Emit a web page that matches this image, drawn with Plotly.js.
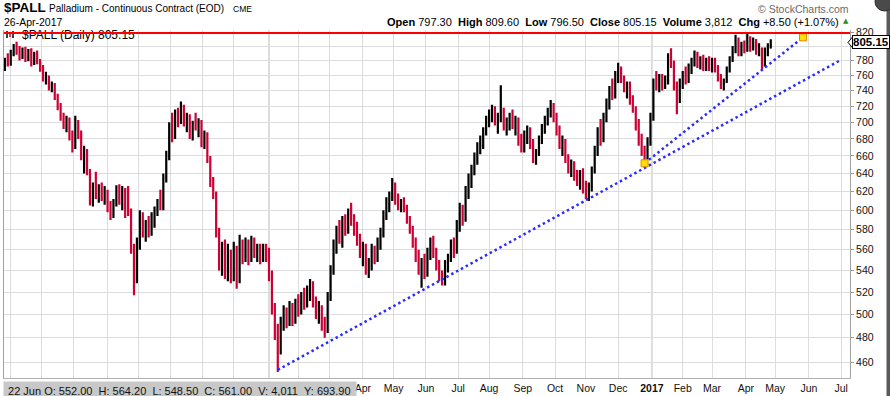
<!DOCTYPE html>
<html><head><meta charset="utf-8">
<script src="https://cdn.plot.ly/plotly-3.0.1.min.js"></script>
<style>html,body{margin:0;padding:0;background:#fff;overflow:hidden}#chart{width:890px;height:396px}</style>
</head><body><div id="chart"></div>
<script>
// ---------- DATA ----------
// one bar every 2 trading days, starting 2015-04-27
const firstBarDate = '2015-04-27';
const barStepDays = 2;

const openP = [
775,780,775,792,798,791,786,795,782,790,776,788,
778,768,756,758,745,748,734,720,706,700,704,682,670,700,684,660,665,642,
615,626,618,624,614,620,602,596,608,622,610,620,612,
600,562,530,566,
592,578,585,576,594,
600,608,604,636,660,692,684,708,700,
720,700,706,686,696,694,700,676,684,656,630,
618,578,548,562,540,556,536,560,530,566,552,566,550,568,558,562,552,562,
556,536,505,488,470,
492,498,492,506,496,510,504,516,508,522,526,
512,500,506,490,
486,515,540,565,578,572,588,580,598,
590,580,570,556,562,542,548,560,552,568,
576,596,610,616,626,612,604,608,
602,590,580,566,552,540,546,538,556,566,556,544,534,530,546,552,566,
558,584,600,590,620,634,644,658,670,676,690,702,710,
716,702,708,712,696,700,706,698,702,678,670,684,690,672,658,664,680,694,702,714,
720,706,690,674,678,656,646,650,636,630,640,622,616,
626,644,666,688,678,706,724,740,734,760,
770,756,744,748,728,716,696,678,664,
660,678,706,750,744,756,746,752,784,776,746,
728,750,760,754,770,778,788,776,782,772,778,770,780,768,758,748,
752,768,782,796,808,790,800,796,810,798,806,792,796,776,792,797.3];

const highP = [
784,790,795,803,806,800,798,799,796,797,792,794,
782,774,765,760,752,750,736,724,712,708,706,690,708,703,690,672,668,645,
630,642,628,630,626,622,610,612,627,628,626,624,626,
602,566,572,600,
598,590,594,598,604,
612,622,640,666,700,712,716,718,726,
722,712,710,702,712,705,703,690,688,660,636,
620,582,568,570,566,560,568,564,575,570,572,570,574,572,566,566,566,566,
562,540,510,492,498,
508,506,512,510,514,518,520,524,526,532,530,
516,512,508,498,
520,545,570,584,590,594,596,602,608,
596,588,576,568,566,552,566,564,572,582,
600,614,620,635,630,618,612,614,
606,594,584,572,560,552,556,562,572,574,562,550,540,550,556,570,572,
590,608,606,626,640,650,664,676,684,694,708,716,722,
720,712,747,718,706,712,716,708,706,686,690,696,694,680,668,684,698,708,718,728,
724,712,696,684,680,662,656,654,644,644,646,632,630,
648,672,694,704,712,730,746,756,766,777,
772,760,752,752,734,720,704,686,672,
682,712,756,766,762,762,760,790,797,780,752,
756,766,772,776,784,794,792,786,788,784,786,784,784,774,762,756,
772,786,800,816,812,806,808,817,814,812,810,804,798,798,804,809.6];

const lowP = [
766,772,773,786,788,780,782,778,779,772,774,775,
765,752,748,740,738,728,715,702,692,688,678,664,668,680,655,640,638,605,
604,612,608,610,606,598,590,592,604,606,600,592,594,
556,517,528,560,
572,568,572,574,582,
594,600,600,630,655,676,680,694,698,
695,688,680,678,690,682,670,668,652,625,612,
572,540,535,532,530,528,530,523,528,546,548,545,548,552,548,546,548,548,
530,500,478,452,466,
486,488,490,490,492,498,500,504,506,512,506,
496,492,486,480,
484,512,536,556,566,562,574,576,584,
574,564,552,544,536,533,540,546,548,560,
572,590,598,610,606,600,598,598,
586,576,562,548,536,524,532,534,550,552,540,530,526,526,538,548,552,
556,578,584,588,612,624,638,650,662,668,684,694,700,
696,686,700,690,684,690,692,684,672,664,664,674,668,652,650,660,674,686,696,706,
700,684,668,660,652,640,636,632,626,622,618,612,610,
620,640,660,672,676,700,716,728,730,750,
750,738,730,722,712,690,672,660,651,
656,672,702,740,738,740,742,748,770,740,710,
724,742,748,750,762,772,770,768,766,766,766,764,764,752,742,740,
750,764,778,790,786,786,790,792,792,794,788,786,768,772,786,796.5];

const closeP = [
780,775,792,798,791,786,795,782,790,776,788,778,
768,756,758,745,748,734,720,706,700,704,682,670,700,684,660,665,642,615,
626,618,624,614,620,602,596,608,622,610,620,598,600,
562,530,566,592,
578,585,576,594,600,
608,604,636,660,692,684,708,700,720,
700,706,686,696,694,700,676,684,656,630,618,
578,548,562,540,556,536,560,530,566,552,566,550,568,558,562,552,562,556,
536,505,488,470,492,
498,492,506,496,510,504,516,508,522,526,512,
500,506,490,486,
515,540,565,578,572,588,580,598,590,
580,570,556,562,542,548,560,552,568,576,
596,610,616,626,612,604,608,602,
590,580,566,552,540,546,538,556,566,556,544,534,530,546,552,566,558,
584,600,590,620,634,644,658,670,676,690,702,710,716,
702,708,712,696,700,706,698,702,678,670,684,690,672,658,664,680,694,702,714,720,
706,690,674,678,656,646,650,636,630,640,622,616,626,
644,666,688,678,706,724,740,734,760,770,
756,744,748,728,716,696,678,664,660,
678,706,750,744,756,746,752,784,776,746,728,
750,760,754,770,778,788,776,782,772,778,770,780,768,758,748,752,
768,782,796,808,790,800,796,810,798,806,792,796,776,792,797,805.15];

// trendlines (date, price)
const longTrendDates = ['2016-01-12', '2017-06-30'];
const longTrendPrices = [453.7, 780];
const shortTrendDates = ['2016-12-27', '2017-05-26'];
const shortTrendPrices = [651.6, 812.4];
const resistanceLevel = 818.5;
const lastClose = 805.15;

// axis ticks (labels under the data box at the bottom-left are hidden there)
const monthTickDates = ['2015-05-01','2015-06-01','2015-07-01','2015-08-03','2015-09-01','2015-10-01','2015-11-02','2015-12-01',
 '2016-01-04','2016-02-01','2016-03-01','2016-04-01','2016-05-02','2016-06-01','2016-07-01','2016-08-01','2016-09-01','2016-10-03','2016-11-01','2016-12-01',
 '2017-01-03','2017-02-01','2017-03-01','2017-04-03','2017-05-01','2017-06-01','2017-07-03'];
const monthTickLabels = ['','','','','','','','',
 '','','','Apr','May','Jun','Jul','Aug','Sep','Oct','Nov','Dec',
 '<b>2017</b>','Feb','Mar','Apr','May','Jun','Jul'];
const yearLineDates = ['2016-01-04', '2017-01-03'];
const priceTicks = [460,480,500,520,540,560,580,600,620,640,660,680,700,720,740,760,780,800,820];
// the 800 label is covered by the last-price tag in the reference
const priceTickLabels = ['460','480','500','520','540','560','580','600','620','640','660','680','700','720','740','760','780','','820'];

// ---------- BUILD ----------
function weekdaySeries(start, n, step){
  const out = [];
  const d = new Date(start + 'T00:00:00Z');
  const fmt = dt => dt.toISOString().slice(0,10);
  out.push(fmt(d));
  while(out.length < n){
    let s = 0;
    while(s < step){
      d.setUTCDate(d.getUTCDate()+1);
      const wd = d.getUTCDay();
      if(wd !== 0 && wd !== 6) s++;
    }
    out.push(fmt(d));
  }
  return out;
}
const barDates = weekdaySeries(firstBarDate, closeP.length, barStepDays);

const FONT = 'Liberation Sans, Arial, sans-serif';
const PL = 4, PR = 850, PT = 30, PB = 378;
const fx = x => (x - PL) / (PR - PL);
const fy = y => (PB - y) / (PB - PT);

const traces = [
  {type:'ohlc', x:barDates, open:openP, high:highP, low:lowP, close:closeP,
   increasing:{line:{color:'#000000', width:2.2}},
   decreasing:{line:{color:'#cc0033', width:2.2}},
   tickwidth:0.1, hoverinfo:'skip', showlegend:false},
  {type:'scatter', mode:'lines', x:longTrendDates, y:longTrendPrices,
   line:{color:'#2b2bff', width:2.5, dash:'2.5px,3px'}, hoverinfo:'skip', showlegend:false},
  {type:'scatter', mode:'lines', x:shortTrendDates, y:shortTrendPrices,
   line:{color:'#2b2bff', width:2.5, dash:'2.5px,3px'}, hoverinfo:'skip', showlegend:false},
  {type:'scatter', mode:'markers', x:shortTrendDates, y:shortTrendPrices,
   marker:{symbol:'square', size:7, color:'#ffe000', line:{color:'#e08a00', width:1}},
   hoverinfo:'skip', showlegend:false}
];

const sp = '\u00a0\u00a0';
const annotations = [
  {xref:'paper', yref:'paper', x:fx(2), y:fy(8), xanchor:'left', yanchor:'middle', showarrow:false,
   text:'<b>$PALL</b>', font:{family:FONT, size:13.5, color:'#000'}},
  {xref:'paper', yref:'paper', x:fx(47), y:fy(8.5), xanchor:'left', yanchor:'middle', showarrow:false,
   text:'Palladium - Continuous Contract (EOD)', font:{family:FONT, size:10, color:'#000'}},
  {xref:'paper', yref:'paper', x:fx(231), y:fy(9), xanchor:'left', yanchor:'middle', showarrow:false,
   text:'CME', font:{family:FONT, size:8.5, color:'#000'}},
  {xref:'paper', yref:'paper', x:fx(2), y:fy(21.5), xanchor:'left', yanchor:'middle', showarrow:false,
   text:'26-Apr-2017', font:{family:FONT, size:10.5, color:'#000'}},
  {xref:'paper', yref:'paper', x:fx(841), y:fy(21.5), xanchor:'right', yanchor:'middle', showarrow:false,
   text:'<b>Open</b> 797.30'+sp+'<b>High</b> 809.60'+sp+'<b>Low</b> 796.50'+sp+'<b>Close</b> 805.15'+sp+'<b>Volume</b> 3,812'+sp+'<b>Chg</b> +8.50 (+1.07%)',
   font:{family:FONT, size:11, color:'#000'}},
  {xref:'paper', yref:'paper', x:fx(846), y:fy(21), xanchor:'center', yanchor:'middle', showarrow:false,
   text:'▲', font:{family:'DejaVu Sans', size:7, color:'#2e8b2e'}},
  {xref:'paper', yref:'paper', x:fx(851), y:fy(8.5), xanchor:'right', yanchor:'middle', showarrow:false,
   text:'© StockCharts.com', font:{family:FONT, size:10.5, color:'#6a6a6a'}},
  {xref:'paper', yref:'y', x:1, xshift:2, y:Math.log10(lastClose), xanchor:'left', yanchor:'middle', showarrow:false,
   text:'<b>'+lastClose.toFixed(2)+'</b>', font:{family:FONT, size:11.5, color:'#000'},
   bgcolor:'#ffffff', bordercolor:'#000000', borderwidth:1, borderpad:0},
  {xref:'paper', yref:'paper', x:fx(3), y:fy(381), xanchor:'left', yanchor:'top', showarrow:false,
   width:350, height:16, align:'left', valign:'middle', bgcolor:'#c8c8c8', borderpad:1,
   text:'\u00a022 Jun O: 552.00'+sp+'H: 564.20'+sp+'L: 548.50'+sp+'C: 561.00'+sp+'V: 4,011'+sp+'Y: 693.90',
   font:{family:FONT, size:11, color:'#111'}}
];

const shapes = [];
yearLineDates.forEach(d => shapes.push({type:'line', xref:'x', yref:'paper', x0:d, x1:d, y0:0, y1:1,
  line:{color:'#b4b4b4', width:1}, layer:'between'}));
// legend text (drawn as a shape label so the resistance line passes over it)
shapes.push({type:'rect', xref:'paper', yref:'paper', x0:fx(18), x1:fx(150), y0:fy(40), y1:fy(28),
  line:{width:0}, fillcolor:'rgba(0,0,0,0)', layer:'above',
  label:{text:'$PALL (Daily) 805.15', textposition:'middle left', padding:1, font:{family:FONT, size:12, color:'#000'}}});
// small legend glyph
[7,10,13].forEach((px,i) => shapes.push({type:'line', xref:'paper', yref:'paper', x0:fx(px), x1:fx(px),
  y0:fy(38 - (i%2)), y1:fy(31 + (i%2)), line:{color:i===1?'#cc0033':'#000', width:1.5}, layer:'above'}));
shapes.push({type:'line', xref:'paper', yref:'y', x0:0, x1:1, y0:resistanceLevel, y1:resistanceLevel,
  line:{color:'#ff0000', width:2}, layer:'above'});
// pointer of the price tag
shapes.push({type:'path', xref:'paper', yref:'paper',
  path:'M '+fx(848)+' '+fy(42.4)+' L '+fx(852.5)+' '+fy(37)+' L '+fx(852.5)+' '+fy(47.8)+' Z',
  fillcolor:'#ffffff', line:{color:'#000', width:1}, layer:'above'});
// right edge strip and corner button
shapes.push({type:'rect', xref:'paper', yref:'paper', x0:fx(886.5), x1:fx(891), y0:fy(397), y1:fy(10),
  fillcolor:'#5a5a5a', line:{width:0}, layer:'above'});
shapes.push({type:'circle', xref:'paper', yref:'paper', x0:fx(875), x1:fx(894), y0:fy(11), y1:fy(-8),
  fillcolor:'#4a4a4a', line:{color:'#2a2a2a', width:1}, layer:'above'});

const layout = {
  width:890, height:396, margin:{l:PL, r:890-PR, t:PT, b:396-PB, pad:0},
  paper_bgcolor:'#ffffff', plot_bgcolor:'#ffffff', showlegend:false, hovermode:false,
  font:{family:FONT, size:10.5, color:'#111'},
  xaxis:{type:'date', range:['2015-04-24 09:50','2017-07-11'], rangebreaks:[{bounds:['sat','mon']}],
    tickmode:'array', tickvals:monthTickDates, ticktext:monthTickLabels,
    showgrid:true, gridcolor:'#dcdcdc', gridwidth:1, ticks:'', tickfont:{family:FONT, size:10.5, color:'#111'},
    showline:true, linecolor:'#b0b0b0', mirror:false, zeroline:false, fixedrange:true,
    rangeslider:{visible:false}},
  yaxis:{type:'log', side:'right', range:[Math.log10(447.3), Math.log10(822.9)],
    tickmode:'array', tickvals:priceTicks, ticktext:priceTickLabels,
    showgrid:true, gridcolor:'#dcdcdc', gridwidth:1, ticks:'outside', ticklen:3, tickcolor:'#999',
    showline:true, linecolor:'#a0a0a0', mirror:true, zeroline:false, fixedrange:true,
    tickfont:{family:FONT, size:10.5, color:'#111'}},
  annotations:annotations, shapes:shapes
};

Plotly.newPlot('chart', traces, layout, {staticPlot:true, displayModeBar:false});
</script>
</body></html>
